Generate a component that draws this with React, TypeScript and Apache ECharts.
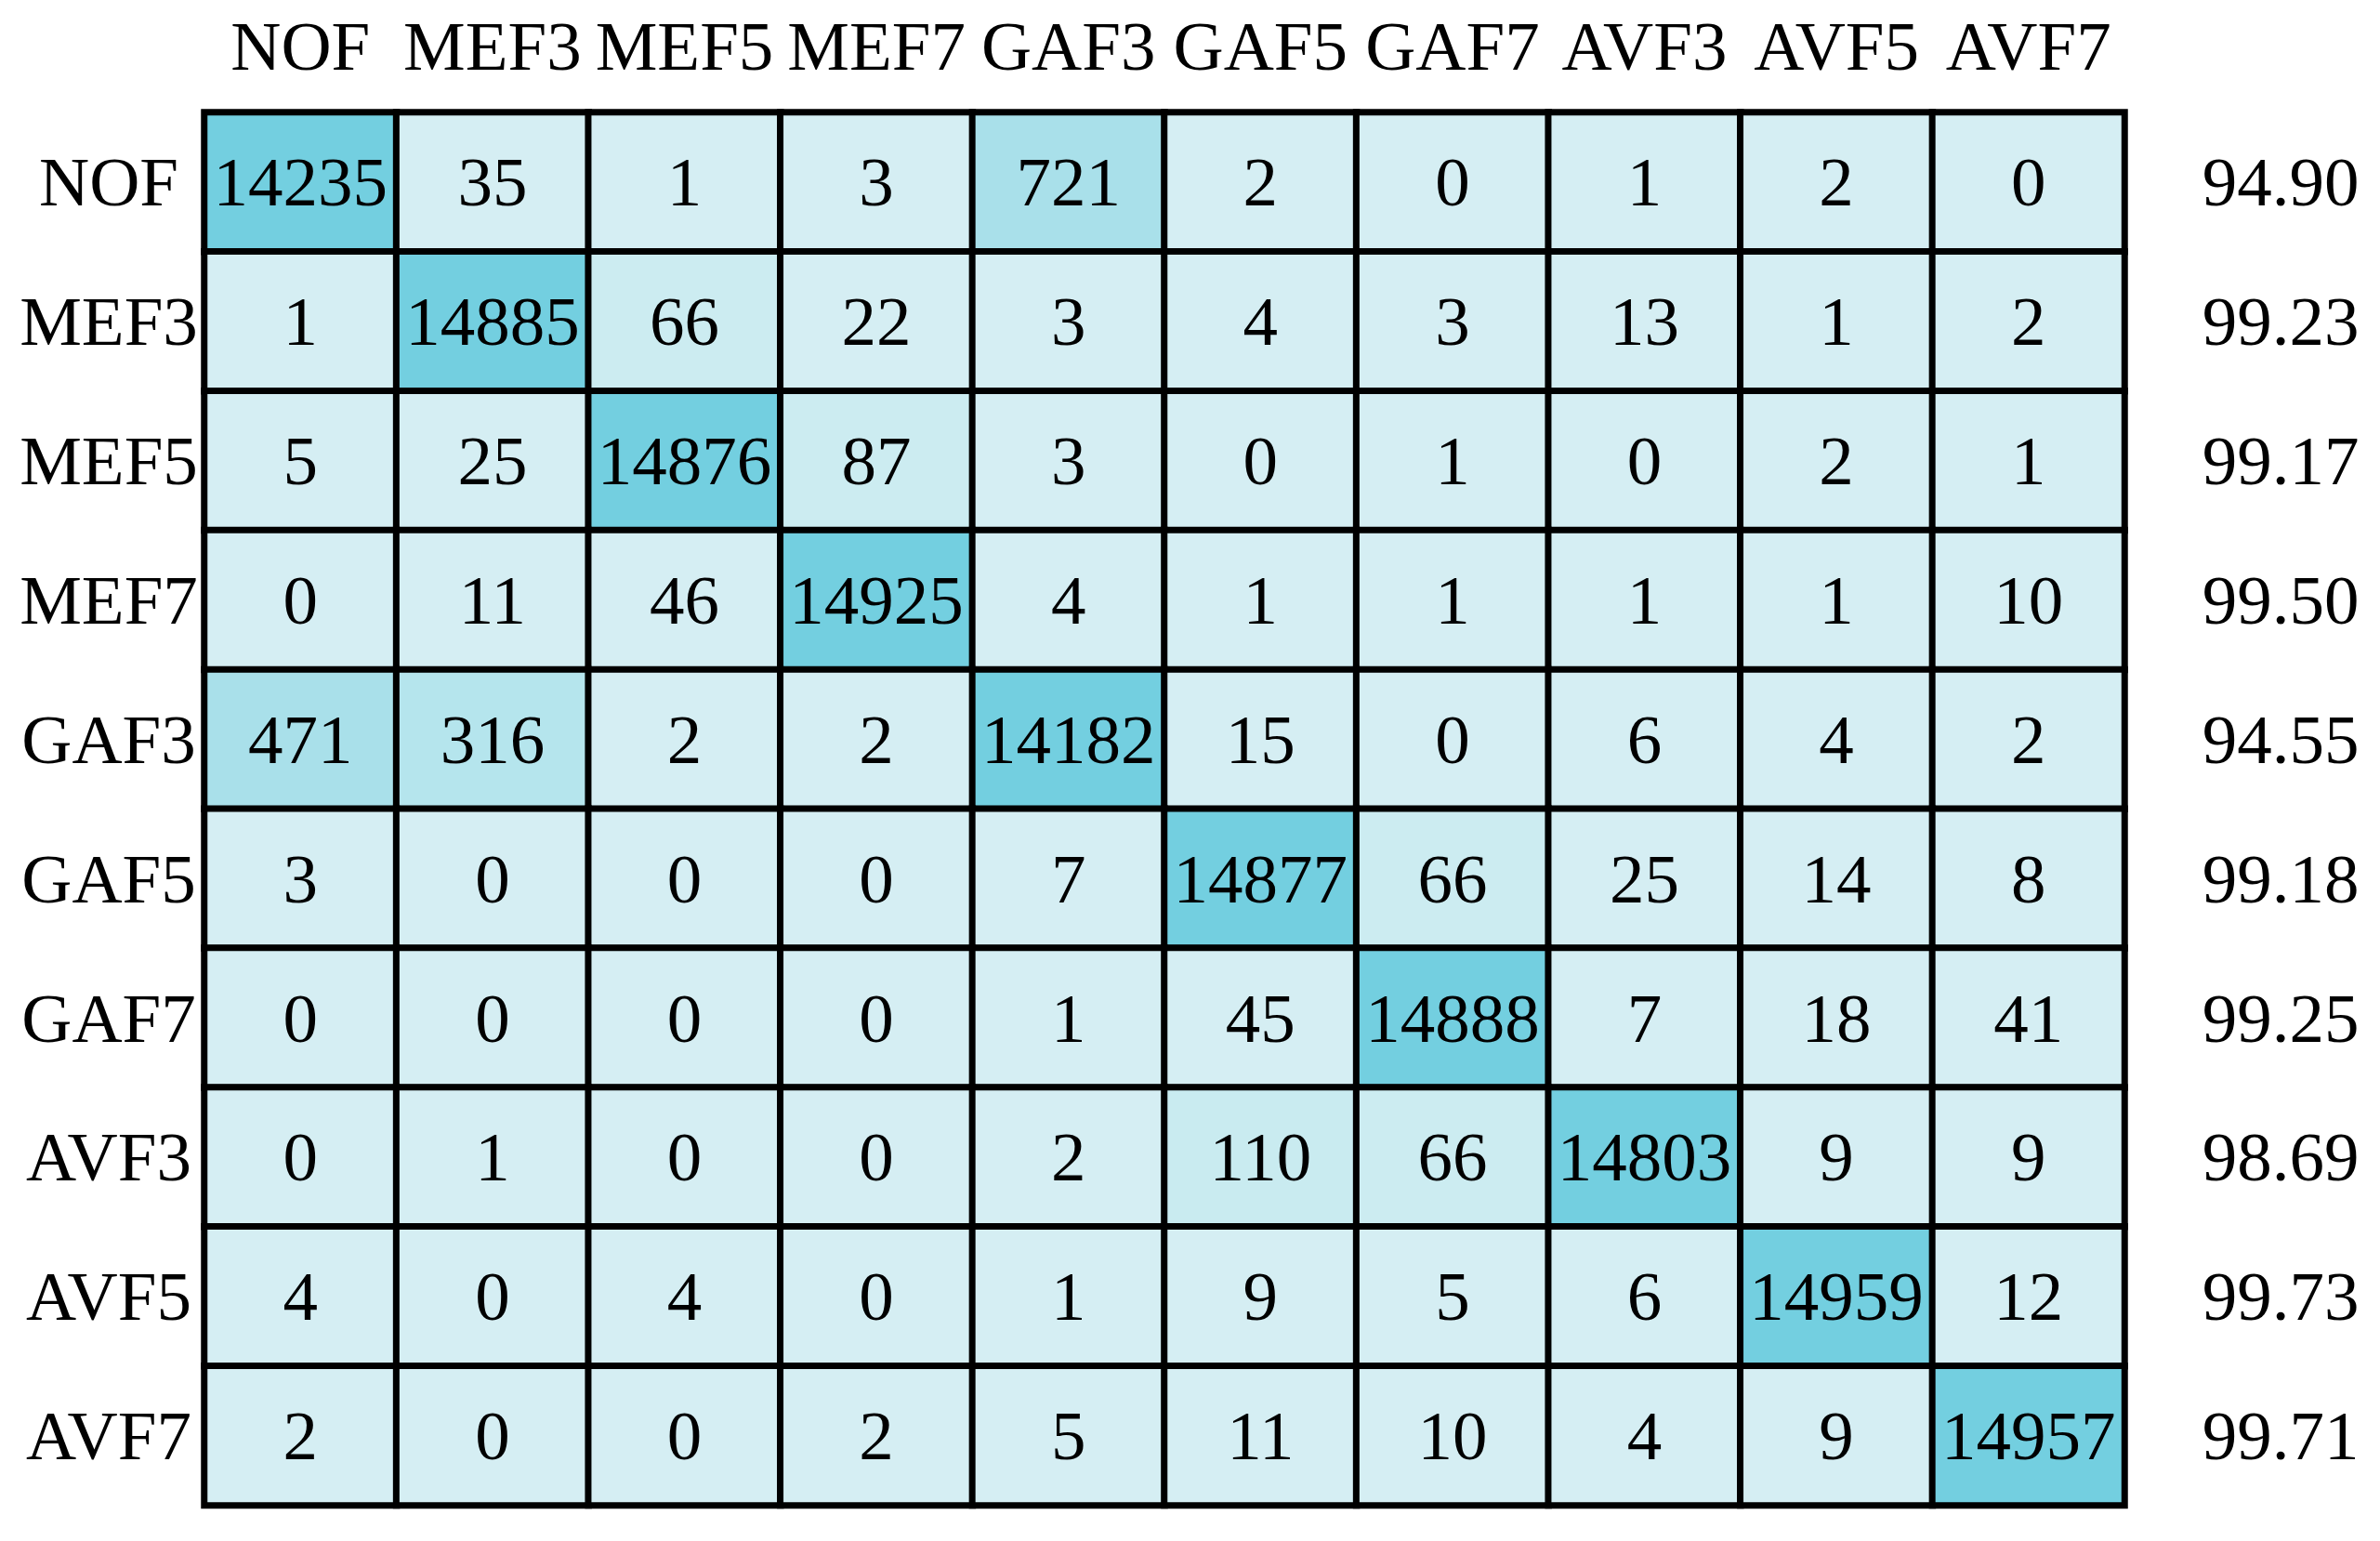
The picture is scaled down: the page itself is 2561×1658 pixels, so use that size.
import React, { useEffect, useRef } from "react";
import * as echarts from "echarts";

const classes = ["NOF", "MEF3", "MEF5", "MEF7", "GAF3", "GAF5", "GAF7", "AVF3", "AVF5", "AVF7"];

const row0 = [14235, 35, 1, 3, 721, 2, 0, 1, 2, 0];
const row1 = [1, 14885, 66, 22, 3, 4, 3, 13, 1, 2];
const row2 = [5, 25, 14876, 87, 3, 0, 1, 0, 2, 1];
const row3 = [0, 11, 46, 14925, 4, 1, 1, 1, 1, 10];
const row4 = [471, 316, 2, 2, 14182, 15, 0, 6, 4, 2];
const row5 = [3, 0, 0, 0, 7, 14877, 66, 25, 14, 8];
const row6 = [0, 0, 0, 0, 1, 45, 14888, 7, 18, 41];
const row7 = [0, 1, 0, 0, 2, 110, 66, 14803, 9, 9];
const row8 = [4, 0, 4, 0, 1, 9, 5, 6, 14959, 12];
const row9 = [2, 0, 0, 2, 5, 11, 10, 4, 9, 14957];
const matrix = [row0, row1, row2, row3, row4, row5, row6, row7, row8, row9];

const accuracy = ["94.90", "99.23", "99.17", "99.50", "94.55", "99.18", "99.25", "98.69", "99.73", "99.71"];

const FONT = "'Liberation Serif', 'Times New Roman', serif";
const FS = 75;

export default function App() {
  const ref = useRef<HTMLDivElement>(null);
  useEffect(() => {
    if (!ref.current) return;
    const chart = echarts.init(ref.current, undefined, { renderer: "svg" });
    const data: number[][] = [];
    matrix.forEach((row, r) => row.forEach((v, c) => data.push([c, r, v])));
    chart.setOption({
      animation: false,
      backgroundColor: "#ffffff",
      grid: { left: 220, top: 121, width: 2066, height: 1498.5, containLabel: false },
      xAxis: {
        type: "category",
        data: classes,
        position: "top",
        axisLine: { show: false },
        axisTick: { show: false },
        splitLine: { show: false },
        axisLabel: { fontSize: FS, fontFamily: FONT, color: "#000", margin: 34, interval: 0 },
      },
      yAxis: [
        {
          type: "category",
          data: classes,
          inverse: true,
          axisLine: { show: false },
          axisTick: { show: false },
          splitLine: { show: false },
          axisLabel: { fontSize: FS, fontFamily: FONT, color: "#000", margin: 103, align: "center", interval: 0 },
        },
        {
          type: "category",
          data: accuracy,
          inverse: true,
          position: "right",
          axisLine: { show: false },
          axisTick: { show: false },
          splitLine: { show: false },
          axisLabel: { fontSize: FS, fontFamily: FONT, color: "#000", margin: 168, align: "center", interval: 0 },
        },
      ],
      visualMap: {
        show: false,
        type: "piecewise",
        dimension: 2,
        seriesIndex: 0,
        pieces: [
          { min: 0, max: 59, color: "#D5EEF3" },
          { min: 60, max: 99, color: "#CCECF1" },
          { min: 100, max: 199, color: "#C9EBF0" },
          { min: 200, max: 399, color: "#B5E5ED" },
          { min: 400, max: 999, color: "#A9E0EA" },
          { min: 1000, color: "#73CFE0" },
        ],
      },
      series: [
        {
          type: "heatmap",
          data,
          itemStyle: { borderColor: "#000", borderWidth: 7 },
          label: { show: true, fontSize: FS, fontFamily: FONT, color: "#000" },
          emphasis: { disabled: true },
        },
      ],
    });
    return () => chart.dispose();
  }, []);
  return <div ref={ref} style={{ position: "fixed", left: 0, top: 0, width: 2561, height: 1658 }} />;
}
